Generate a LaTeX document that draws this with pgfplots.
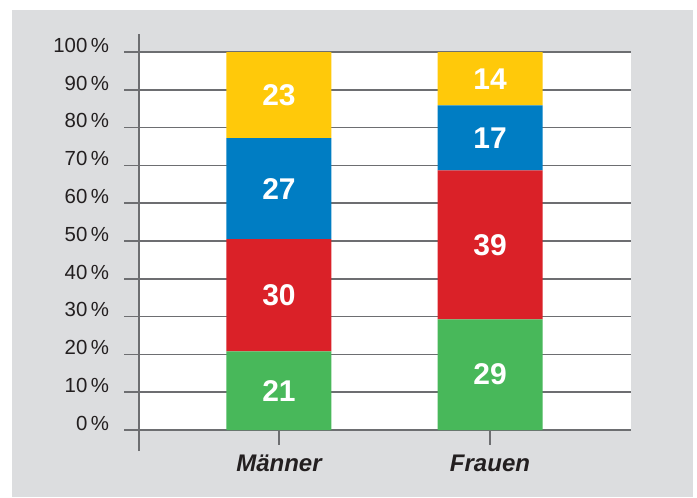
\documentclass[border=0pt]{standalone}
\usepackage{fontspec}
\setmainfont{Liberation Sans}
\usepackage{pgfplots}
\pgfplotsset{compat=1.18}
\usepackage{pgfplotstable}

\definecolor{bggray}{HTML}{DCDDDF}
\definecolor{cgreen}{HTML}{48B85A}
\definecolor{cred}{HTML}{DA2128}
\definecolor{cblue}{HTML}{007DC3}
\definecolor{cyellow}{HTML}{FFC90A}
\definecolor{gridc}{HTML}{6D6E71}
\definecolor{txt}{HTML}{231F20}

% values scaled so each bar sums to 100; lbl = printed percentage
\pgfplotstableread{
x v lbl
0 20.79 21
1 29.29 29
}\green
\pgfplotstableread{
x v lbl
0 29.70 30
1 39.39 39
}\red
\pgfplotstableread{
x v lbl
0 26.73 27
1 17.17 17
}\blue
\pgfplotstableread{
x v lbl
0 22.77 23
1 14.14 14
}\yellow

\begin{document}
\begin{tikzpicture}[x=0.75pt,y=0.75pt]
\fill[white] (0,0) rectangle (697,497);
\useasboundingbox (0,0) rectangle (697,497);
\fill[bggray] (12,0) rectangle (693,487);
\begin{axis}[
  at={(104.25pt,50.25pt)}, anchor=south west,
  scale only axis, width=369pt, height=283.5pt,
  xmin=-0.663, xmax=1.668, ymin=0, ymax=100,
  ybar stacked, bar width=78.75pt,
  axis background/.style={fill=white},
  axis line style={draw=none},
  ytick={0,10,...,100},
  yticklabels={0\,\%,10\,\%,20\,\%,30\,\%,40\,\%,50\,\%,60\,\%,70\,\%,80\,\%,90\,\%,100\,\%},
  yticklabel style={font=\fontsize{15.3}{17}\selectfont, text=txt, yshift=5pt, xshift=-8pt},
  ymajorgrids, major grid style={gridc, line width=1.1pt},
  tick style={gridc, line width=1.1pt},
  tick align=outside, major tick length=11pt,
  xtick={0,1}, xticklabels={Männer,Frauen},
  xticklabel style={font=\fontsize{18}{20}\selectfont\bfseries\itshape, text=txt, yshift=-4.5pt},
  tick pos=left,
  nodes near coords, point meta=explicit symbolic,
  every node near coord/.append style={font=\fontsize{22.5}{26}\selectfont\bfseries, text=white, anchor=center},
]
\addplot[fill=cgreen, draw=none] table[x=x, y=v, meta=lbl] {\green};
\addplot[fill=cred, draw=none] table[x=x, y=v, meta=lbl] {\red};
\addplot[fill=cblue, draw=none] table[x=x, y=v, meta=lbl] {\blue};
\addplot[fill=cyellow, draw=none] table[x=x, y=v, meta=lbl] {\yellow};
\end{axis}
\draw[gridc, line width=1.1pt] (139,46) -- (139,463);
\end{tikzpicture}
\end{document}
